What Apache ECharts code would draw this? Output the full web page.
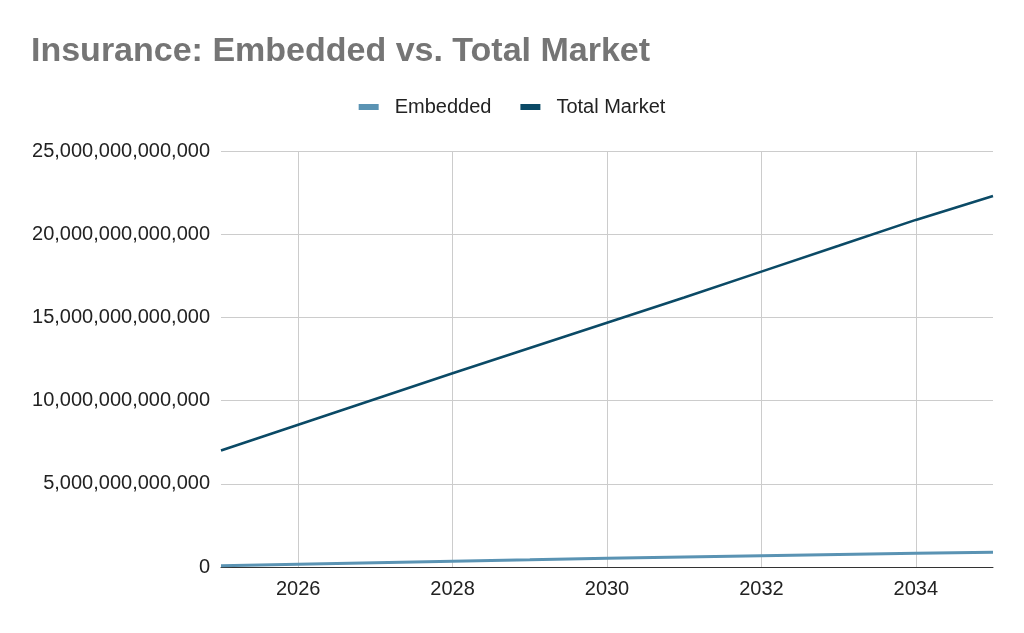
<!DOCTYPE html>
<html>
<head>
<meta charset="utf-8">
<script src="https://cdn.jsdelivr.net/npm/echarts@6/dist/echarts.min.js"></script>
<style>html,body{margin:0;padding:0;background:#fff;}#chart{width:1024px;height:633px;}</style>
</head>
<body>
<div id="chart"></div>
<script>
const years = [2025, 2026, 2027, 2028, 2029, 2030, 2031, 2032, 2033, 2034, 2035];
const embedded = [0.08e12, 0.17e12, 0.26e12, 0.35e12, 0.43e12, 0.52e12, 0.6e12, 0.68e12, 0.75e12, 0.82e12, 0.88e12];
const totalMarket = [7.0e12, 8.55e12, 10.1e12, 11.64e12, 13.16e12, 14.68e12, 16.2e12, 17.75e12, 19.3e12, 20.86e12, 22.3e12];
const xTicks = [2026, 2028, 2030, 2032, 2034];
const seriesNames = ['Embedded', 'Total Market'];
const titleText = 'Insurance: Embedded vs. Total Market';

const chart = echarts.init(document.getElementById('chart'), null, {renderer: 'canvas'});
const font = 'Liberation Sans, Arial, sans-serif';
chart.setOption({
  animation: false,
  backgroundColor: '#ffffff',
  title: {
    text: titleText,
    left: 26, top: 30,
    textStyle: {fontFamily: font, fontSize: 34, fontWeight: 'bold', color: '#757575'}
  },
  legend: {
    top: 92, left: 'center',
    itemWidth: 20, itemHeight: 6, itemGap: 29,
    icon: 'rect',
    textStyle: {fontFamily: font, fontSize: 20, color: '#222', padding: [0, 0, 0, 11]},
    data: seriesNames
  },
  grid: {left: 221, right: 31, top: 151, bottom: 66, containLabel: false},
  xAxis: {
    type: 'value', min: 2025, max: 2035,
    axisLine: {show: true, onZero: false, lineStyle: {color: '#333', width: 1}},
    axisTick: {show: false, customValues: xTicks},
    axisLabel: {customValues: xTicks, fontFamily: font, fontSize: 20, color: '#222', margin: 12,
      formatter: v => String(v)},
    splitLine: {show: true, lineStyle: {color: '#cccccc', width: 1}}
  },
  yAxis: {
    type: 'value', min: 0, max: 25e12, interval: 5e12,
    axisLine: {show: false}, axisTick: {show: false},
    axisLabel: {fontFamily: font, fontSize: 20, color: '#222', margin: 11,
      formatter: v => v.toLocaleString('en-US')},
    splitLine: {show: true, lineStyle: {color: '#cccccc', width: 1}}
  },
  series: [
    {name: seriesNames[0], type: 'line', showSymbol: false, symbol: 'none',
     data: years.map((y, i) => [y, embedded[i]]),
     lineStyle: {color: '#5a93b3', width: 3}, itemStyle: {color: '#5a93b3'}, z: 3},
    {name: seriesNames[1], type: 'line', showSymbol: false, symbol: 'none',
     data: years.map((y, i) => [y, totalMarket[i]]),
     lineStyle: {color: '#0b4a66', width: 2.6}, itemStyle: {color: '#0b4a66'}, z: 2}
  ]
});
</script>
</body>
</html>
